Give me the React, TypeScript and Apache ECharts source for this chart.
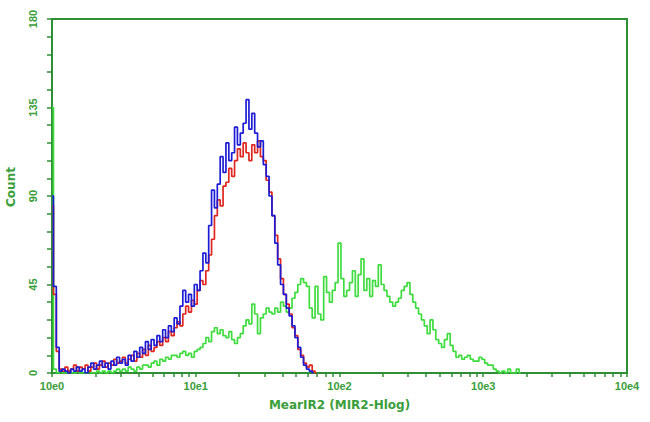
import React, { useEffect, useRef } from 'react';
import * as echarts from 'echarts';

// Histogram bins are evenly spaced in log10(channel): start and step in decades
const binStartLog = 0;
const binStepLog = 0.02;

const blueCounts = [
  90, 44, 13, 1, 2, 1, 0, 2, 1, 3,
  1, 2, 0, 3, 5, 2, 4, 6, 3, 5,
  2, 6, 4, 8, 5, 7, 4, 9, 6, 11,
  8, 13, 10, 16, 12, 17, 14, 19, 16, 22,
  18, 24, 21, 28, 25, 34, 42, 36, 40, 34,
  45, 42, 52, 61, 56, 75, 93, 84, 96, 110,
  102, 117, 108, 112, 125, 116, 122, 127, 139, 124,
  132, 122, 115, 118, 106, 100, 90, 80, 66, 55,
  45, 40, 33, 29, 24, 18, 13, 8, 4, 2,
  1, 0,
];

const redCounts = [
  85, 40, 11, 2, 1, 3, 1, 2, 4, 1,
  3, 2, 4, 1, 3, 5, 2, 4, 6, 3,
  5, 4, 7, 5, 6, 8, 5, 7, 9, 6,
  10, 8, 12, 9, 14, 11, 13, 16, 14, 18,
  16, 21, 19, 23, 26, 24, 30, 34, 31, 37,
  35, 42, 47, 45, 52, 60, 68, 80, 88, 85,
  95, 97, 104, 100, 108, 114, 110, 117, 112, 108,
  116, 112, 118, 110, 108, 98, 92, 80, 70, 58,
  48, 40, 35, 30, 23, 19, 12, 9, 5, 3,
  4, 1, 0,
];

const greenCounts = [
  135, 2, 0, 1, 0, 0, 1, 0, 0, 1,
  0, 0, 0, 1, 0, 0, 1, 0, 1, 0,
  1, 0, 1, 2, 1, 2, 1, 3, 2, 1,
  3, 2, 4, 4, 3, 5, 6, 4, 7, 6,
  8, 7, 9, 9, 8, 10, 11, 9, 10, 8,
  11, 12, 13, 15, 18, 16, 21, 23, 20, 22,
  19, 18, 21, 17, 15, 18, 20, 24, 27, 25,
  35, 30, 20, 28, 30, 33, 31, 30, 33, 31,
  36, 34, 31, 33, 38, 41, 45, 48, 46, 44,
  33, 28, 44, 30, 27, 49, 41, 36, 42, 46,
  66, 48, 39, 42, 46, 52, 39, 50, 58, 42,
  48, 39, 47, 44, 55, 45, 42, 39, 36, 34,
  36, 38, 42, 44, 46, 40, 36, 33, 30, 27,
  24, 20, 27, 22, 17, 15, 13, 17, 20, 14,
  11, 8, 9, 7, 8, 9, 7, 6, 6, 8,
  7, 5, 4, 4, 2, 1, 0, 1, 0, 2,
  0, 0, 2, 0,
];

const xDecadeValues = [1, 10, 100, 1000, 10000];
const xMinorMultipliers = [1, 2, 3, 4, 5, 6, 7, 8, 9];
const yMax = 180;
const yInterval = 45;
const xAxisTitle = 'MearIR2 (MIR2-Hlog)';
const yAxisTitle = 'Count';

const axisColor = '#2f8f34';
const textColor = '#3a9e3a';

function toPoints(counts: number[]) {
  return counts.map((c, i) => [Math.pow(10, binStartLog + i * binStepLog), c]);
}

function xTickValues() {
  const vals: number[] = [];
  for (let d = 0; d < xDecadeValues.length - 1; d++) {
    for (const k of xMinorMultipliers) vals.push(k * xDecadeValues[d]);
  }
  vals.push(xDecadeValues[xDecadeValues.length - 1]);
  return vals;
}

export default function App() {
  const ref = useRef<HTMLDivElement>(null);
  useEffect(() => {
    if (!ref.current) return;
    const chart = echarts.init(ref.current, undefined, { renderer: 'svg' });
    const labelFont = {
      color: textColor,
      fontSize: 11,
      fontWeight: 'bold' as const,
      fontFamily: 'Liberation Sans, Arial, sans-serif',
    };
    chart.setOption({
      animation: false,
      backgroundColor: '#ffffff',
      grid: {
        left: 52,
        right: 23,
        top: 19,
        bottom: 49,
        show: true,
        borderColor: axisColor,
        borderWidth: 2,
        backgroundColor: 'transparent',
      },
      xAxis: {
        type: 'log',
        logBase: 10,
        min: 1,
        max: 10000,
        name: xAxisTitle,
        nameLocation: 'middle',
        nameGap: 26,
        nameTextStyle: {
          color: textColor,
          fontSize: 12,
          fontWeight: 'bold',
          fontFamily: 'DejaVu Sans, sans-serif',
        },
        axisLine: { show: true, lineStyle: { color: axisColor, width: 2 } },
        axisTick: {
          show: true,
          customValues: xTickValues(),
          length: 4,
          inside: false,
          lineStyle: { color: axisColor, width: 1.5 },
        },
        axisLabel: {
          customValues: xDecadeValues,
          formatter: (v: number) => '10e' + Math.round(Math.log10(v)),
          margin: 7,
          ...labelFont,
        },
        splitLine: { show: false },
        minorSplitLine: { show: false },
      },
      yAxis: {
        type: 'value',
        min: 0,
        max: yMax,
        interval: yInterval,
        axisLine: { show: true, lineStyle: { color: axisColor, width: 2 } },
        axisTick: { show: true, length: 5, lineStyle: { color: axisColor, width: 1.5 } },
        minorTick: { show: true, splitNumber: 5, length: 5, lineStyle: { color: axisColor, width: 1.5 } },
        axisLabel: { rotate: 90, margin: 14, ...labelFont },
        splitLine: { show: false },
        minorSplitLine: { show: false },
      },
      graphic: [
        {
          type: 'text',
          x: 11,
          y: 187,
          rotation: Math.PI / 2,
          style: {
            text: yAxisTitle,
            align: 'center',
            verticalAlign: 'middle',
            fill: textColor,
            font: 'bold 12px DejaVu Sans, sans-serif',
          },
        },
      ],
      series: [
        {
          type: 'line',
          data: toPoints(greenCounts),
          step: 'middle',
          showSymbol: false,
          lineStyle: { color: '#3fdc3f', width: 1.7 },
          itemStyle: { color: '#3fdc3f' },
          z: 2,
        },
        {
          type: 'line',
          data: toPoints(redCounts),
          step: 'middle',
          showSymbol: false,
          lineStyle: { color: '#e0261f', width: 1.7 },
          itemStyle: { color: '#e0261f' },
          z: 3,
        },
        {
          type: 'line',
          data: toPoints(blueCounts),
          step: 'middle',
          showSymbol: false,
          lineStyle: { color: '#1c1cd6', width: 1.7 },
          itemStyle: { color: '#1c1cd6' },
          z: 4,
        },
      ],
    });
    return () => chart.dispose();
  }, []);
  return (
    <div
      ref={ref}
      style={{ position: 'fixed', left: 0, top: 0, width: 650, height: 422, background: '#fff' }}
    />
  );
}
